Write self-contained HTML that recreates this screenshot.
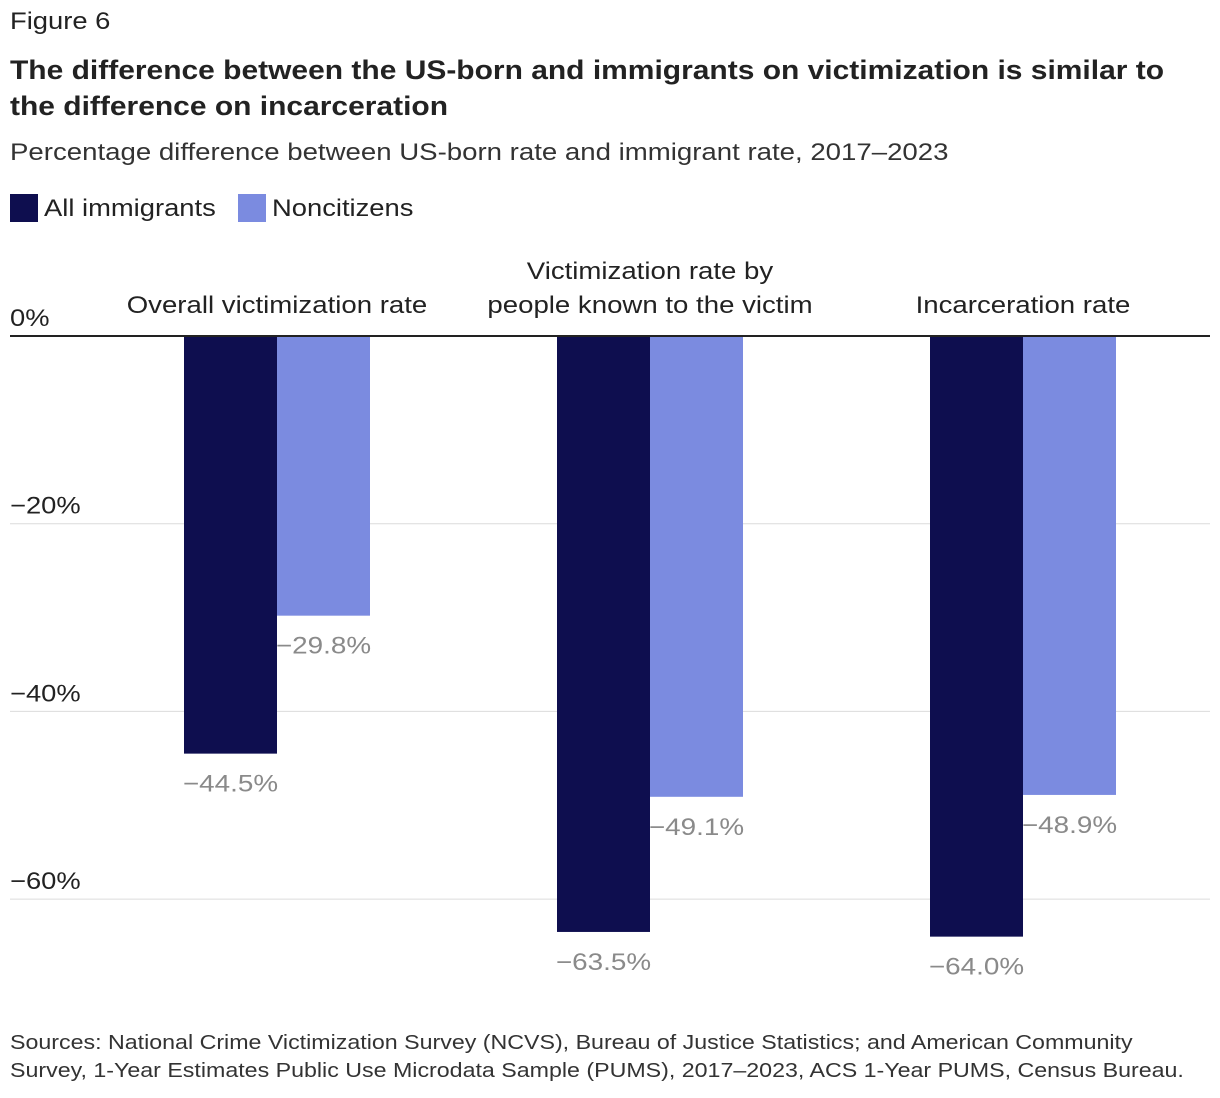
<!DOCTYPE html>
<html><head><meta charset="utf-8"><style>
body{margin:0;width:1220px;height:1098px;background:#fff;font-family:"Liberation Sans",sans-serif;color:#222;position:relative;overflow:hidden}
.t{position:absolute;white-space:nowrap;transform-origin:0 0;transform:scaleX(1.14)}
</style></head><body>
<div class="t" style="left:10px;top:8px;font-size:24px;color:#222">Figure 6</div>
<div class="t" style="left:10px;top:52px;font-size:27px;font-weight:bold;line-height:36px;transform:scaleX(1.11)">The difference between the US-born and immigrants on victimization is similar to<br>the difference on incarceration</div>
<div class="t" style="left:10px;top:139px;font-size:24px;color:#333;transform:scaleX(1.15)">Percentage difference between US-born rate and immigrant rate, 2017–2023</div>
<div>
<div style="position:absolute;left:10px;top:194px;width:28px;height:28px;background:#0e0e4f"></div>
<div class="t" style="left:44px;top:195px;font-size:24px">All immigrants</div>
<div style="position:absolute;left:238px;top:194px;width:28px;height:28px;background:#7b8be0"></div>
<div class="t" style="left:272px;top:195px;font-size:24px">Noncitizens</div>
</div>
<svg id="chart" width="1220" height="1098" style="position:absolute;left:0;top:0" font-family="Liberation Sans, sans-serif"></svg>
<div class="t" style="left:10px;top:1029px;font-size:20px;line-height:28px;color:#333;transform:scaleX(1.16)">Sources: National Crime Victimization Survey (NCVS), Bureau of Justice Statistics; and American Community<br>Survey, 1-Year Estimates Public Use Microdata Sample (PUMS), 2017–2023, ACS 1-Year PUMS, Census Bureau.</div>
<script>
const categories=[["Overall victimization rate"],["Victimization rate by","people known to the victim"],["Incarceration rate"]];
const allImmigrants=[-44.5,-63.5,-64.0];
const noncitizens=[-29.8,-49.1,-48.9];
const yTicks=[0,-20,-40,-60];
const yTickLabels=["0%","−20%","−40%","−60%"];
const svg=document.getElementById('chart');
const NS='http://www.w3.org/2000/svg';
const y0=336,pxPer=9.385;
const y=v=>y0-v*pxPer;
const bandStart=90.5,bandW=373,barW=93;
const xc=i=>bandStart+bandW*(i+0.5);
function mk(tag,attrs){const e=document.createElementNS(NS,tag);for(const k in attrs)e.setAttribute(k,attrs[k]);svg.appendChild(e);return e;}
function stretch(tx,anchorX,k){tx.setAttribute('transform','translate('+anchorX+',0) scale('+k+',1) translate('+(-anchorX)+',0)');}
yTicks.forEach((t,i)=>{
  if(t!==0){const l=mk('line',{x1:10,x2:1210,y1:y(t),y2:y(t),stroke:'#dcdcdc','stroke-width':1});
  
  }
  const tx=mk('text',{x:10,y:y(t)-10,'font-size':24,fill:'#222'});
  tx.textContent=yTickLabels[i];
  stretch(tx,10,1.14);
  
  
});
categories.forEach((c,i)=>{
  c.forEach((line,j)=>{
    const tx=mk('text',{x:xc(i),y:313-(c.length-1-j)*34,'font-size':24,fill:'#222','text-anchor':'middle'});
    tx.textContent=line;
    stretch(tx,xc(i),1.15);
    
    
  });
  [[allImmigrants,'#0e0e4f',-barW],[noncitizens,'#7b8be0',0]].forEach(([arr,col,off],s)=>{
    const v=arr[i];
    const r=mk('rect',{x:xc(i)+off,y:y0,width:barW,height:y(v)-y0,fill:col});
    
    
    const cx=xc(i)+off+barW/2;
    const tx=mk('text',{x:cx,y:y(v)+38,'font-size':24,fill:'#8a8a8a','text-anchor':'middle'});
    tx.textContent='−'+Math.abs(v).toFixed(1)+'%';
    stretch(tx,cx,1.16);
    
    
  });
});
const z=mk('line',{x1:10,x2:1210,y1:y0,y2:y0,stroke:'#222','stroke-width':2});


</script>
</body></html>
